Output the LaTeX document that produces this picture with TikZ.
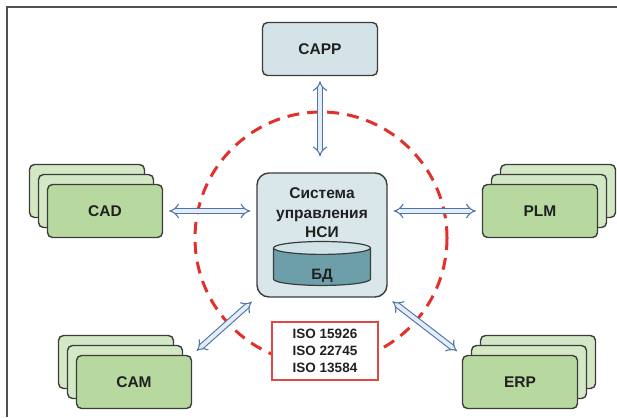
\documentclass[tikz,border=0pt]{standalone}
\usepackage{fontspec}
\setmainfont{Liberation Sans}
\usetikzlibrary{shapes.geometric,arrows.meta,positioning,calc}

\definecolor{framegray}{HTML}{505050}
\definecolor{boxline}{HTML}{3C3C3C}
\definecolor{cappfill}{HTML}{D3E3E7}
\definecolor{corefill}{HTML}{D9E7EB}
\definecolor{greenfront}{HTML}{B7D99F}
\definecolor{greenback}{HTML}{D3E8C5}
\definecolor{dbbody}{HTML}{6D9FAA}
\definecolor{dbtop}{HTML}{CFE3E8}
\definecolor{arrowline}{HTML}{4F74A8}
\definecolor{arrowfill}{HTML}{E3ECF7}
\definecolor{ringred}{HTML}{E2302C}
\definecolor{isored}{HTML}{E04848}
\definecolor{inkgray}{HTML}{202020}

\begin{document}
\begin{tikzpicture}[
  x=1pt, y=-1pt,
  box/.style={rectangle, rounded corners=5pt, draw=boxline, line width=1.4pt,
              minimum width=115pt, minimum height=53pt, text=inkgray,
              font=\bfseries\fontsize{15.5}{17}\selectfont},
  modbox/.style={box, fill=greenfront},
  backbox/.style={box, fill=greenback},
  corebox/.style={rectangle, rounded corners=12pt, draw=boxline, line width=1.4pt,
                  fill=corefill, minimum width=130pt, minimum height=124pt},
  coretext/.style={align=center, text=inkgray, font=\bfseries\fontsize{15.5}{19.5}\selectfont},
  db/.style={cylinder, shape border rotate=90, aspect=0.6, draw=boxline, line width=1.2pt,
             cylinder uses custom fill, cylinder body fill=dbbody, cylinder end fill=dbtop,
             minimum width=97pt, minimum height=37pt, inner sep=0pt,
             text height=24pt, text depth=0pt, text=inkgray,
             font=\bfseries\fontsize{15}{16}\selectfont},
  isobox/.style={rectangle, draw=isored, line width=1.6pt, fill=white, align=center,
                 minimum width=106pt, minimum height=58pt, text=inkgray,
                 font=\bfseries\fontsize{13.5}{17}\selectfont},
  ring/.style={draw=ringred, line width=3pt, dash pattern=on 12pt off 8pt},
  link/.style={draw=arrowline, line width=1.1pt, double=arrowfill, double distance=4pt,
               {Implies[scale=2.2]}-{Implies[scale=2.2]},
               shorten <=6pt, shorten >=6pt},
  frame/.style={draw=framegray, line width=2pt},
]
\useasboundingbox (0,0) rectangle (617,417);

% outer frame
\draw[frame] (6.5,417) -- (6.5,7.5) -- (617,7.5);

% dashed ring round the core
\coordinate (ringc) at (321,238);
\draw[ring] (ringc) circle[radius=126];

% core system with its database
\node[corebox] (core) at (322,235) {};
\node[coretext] (coretitle) at (322,213) {Система\\управления\\НСИ};
\node[db] (bd) at (322,267) {БД};

% standards
\node[isobox] (iso) at (325,351) {ISO 15926\\ISO 22745\\ISO 13584};

% top module
\node[box, fill=cappfill] (capp) at (320,49) {CAPP};

% stacked modules
\coordinate (cadpos) at (105,211);
\coordinate (plmpos) at (540,211);
\coordinate (campos) at (134,382);
\coordinate (erppos) at (520,382);
\foreach \k in {2,1} {
  \node[backbox] (cad\k) at ($(cadpos)+(-9*\k,-10*\k)$) {};
  \node[backbox] (plm\k) at ($(plmpos)+(9*\k,-10*\k)$) {};
  \node[backbox] (cam\k) at ($(campos)+(-9*\k,-10*\k)$) {};
  \node[backbox] (erp\k) at ($(erppos)+(9*\k,-10*\k)$) {};
}
\node[modbox] (cad) at (cadpos) {CAD};
\node[modbox] (plm) at (plmpos) {PLM};
\node[modbox] (cam) at (campos) {CAM};
\node[modbox] (erp) at (erppos) {ERP};

% links to the core
\draw[link, shorten <=5pt, shorten >=16pt] (capp.south) -- (capp.south |- core.north);
\draw[link] (cad.east) -- (cad.east -| core.west);
\draw[link] (plm.west) -- (plm.west -| core.east);
\draw[link] (cam.north east) -- (core.south west);
\draw[link] (erp.north west) -- (core.south east);

\end{tikzpicture}
\end{document}
